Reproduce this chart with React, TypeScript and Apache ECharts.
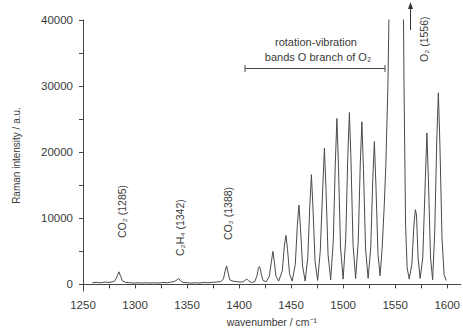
import React, { useEffect, useRef } from "react";
import * as echarts from "echarts";

// Raman spectrum: wavenumber (cm^-1) and intensity (a.u.)
const wavenumbers = [
  1259, 1263, 1267, 1271, 1275, 1279, 1281, 1283, 1284.5, 1286, 1288, 1291, 1295, 1299,
  1303, 1307, 1311, 1315, 1319, 1323, 1327, 1331, 1335, 1338, 1340.5, 1342, 1343.5, 1346,
  1350, 1354, 1358, 1362, 1366, 1370, 1374, 1378, 1382, 1385, 1386.5, 1388, 1389.5, 1391,
  1394, 1398, 1401, 1404, 1406, 1407.5, 1409, 1412, 1415, 1417, 1418.5, 1419.5, 1420.5,
  1421.5, 1423, 1426, 1429, 1431, 1432.5, 1434, 1435.5, 1438, 1441.5, 1443.5, 1445, 1446.5,
  1448.5, 1451, 1454, 1456, 1457.5, 1459, 1461, 1463.5, 1466, 1468, 1469.5, 1471, 1473,
  1475.5, 1478, 1480.5, 1482, 1483.5, 1485.5, 1488, 1490.5, 1492.5, 1494, 1495.5, 1497.5,
  1500, 1502.5, 1504.5, 1506, 1507.5, 1509.5, 1512, 1514.5, 1516.5, 1518, 1519.5, 1521.5,
  1524, 1526.5, 1528.5, 1530, 1531.5, 1533.5, 1535.5, 1537.5, 1539.5, 1541, 1543, 1544.5,
  1547, 1551, 1556, 1557.5, 1558.5, 1560, 1561.5, 1563.5, 1566, 1568, 1569.4, 1570.5, 1572,
  1574, 1576.5, 1579, 1580.5, 1582, 1584, 1586, 1588, 1590, 1591.5, 1593, 1595, 1597, 1599,
];
const intensities = [
  250, 300, 250, 350, 300, 400, 600, 1300, 1900, 1300, 500, 300, 250, 200,
  250, 200, 250, 200, 250, 200, 300, 250, 350, 450, 700, 900, 600, 300,
  250, 200, 250, 200, 300, 250, 300, 350, 400, 800, 2000, 2800, 1700, 700,
  500, 400, 350, 400, 650, 800, 550, 300, 400, 1200, 2400, 2700, 2300,
  1400, 600, 400, 1200, 3400, 5000, 3200, 1200, 500, 2000, 5800, 7400, 5400,
  1600, 500, 3000, 9000, 12000, 8500, 2800, 500, 4000, 12000, 16600, 11500, 3500,
  600, 5000, 15000, 20600, 14500, 4500, 700, 6500, 18500, 25100, 18000, 5500,
  800, 7000, 19500, 26000, 19000, 6000, 900, 6500, 18500, 24600, 17500, 5500,
  900, 5500, 16000, 21600, 15000, 4500, 1300, 5500, 12000, 18000, 30000, 45000,
  80000, 200000, 400000, 50000, 30000, 9000, 2500, 800, 3000, 9000, 11300, 10500, 4000,
  900, 4000, 16000, 22900, 15500, 4000, 700, 8000, 22000, 29000, 21000, 7000, 1500, 600,
];

const xTickLabels = [1250, 1300, 1350, 1400, 1450, 1500, 1550, 1600];
const xTicks = [1250, 1275, 1300, 1325, 1350, 1375, 1400, 1425, 1450, 1475, 1500, 1525, 1550, 1575, 1600];
const yTickLabels = [0, 10000, 20000, 30000, 40000];
const yTicks = [0, 5000, 10000, 15000, 20000, 25000, 30000, 35000, 40000];

const FONT = "'Liberation Sans', Arial, Helvetica, sans-serif";
const TXT = "#3a3a3a";

export default function App() {
  const ref = useRef<HTMLDivElement>(null);

  useEffect(() => {
    if (!ref.current) return;
    const chart = echarts.init(ref.current, undefined, { renderer: "svg" });
    const data = wavenumbers.map((w, i) => [w, intensities[i]]);

    const vText = (text: string, x: number, y: number, size = 10.5) => ({
      type: "text",
      x,
      y,
      rotation: Math.PI / 2,
      style: {
        text,
        fill: TXT,
        font: `${size}px ${FONT}`,
        align: "left",
        verticalAlign: "middle",
      },
    });

    chart.setOption({
      animation: false,
      backgroundColor: "#ffffff",
      grid: { left: 83, right: 0, top: 20, bottom: 41, containLabel: false },
      xAxis: {
        type: "value",
        min: 1250,
        max: 1613,
        name: "wavenumber / cm⁻¹",
        nameLocation: "middle",
        nameGap: 25,
        nameTextStyle: { fontFamily: FONT, fontSize: 10.5, color: TXT },
        axisLine: { show: true, lineStyle: { color: "#444", width: 1 } },
        axisTick: { show: true, customValues: xTicks, length: 4, lineStyle: { color: "#444" } },
        axisLabel: {
          customValues: xTickLabels,
          formatter: (v: number) => String(v),
          fontFamily: FONT,
          fontSize: 11.5,
          color: TXT,
          margin: 8,
        },
        splitLine: { show: false },
      },
      yAxis: {
        type: "value",
        min: -1000,
        max: 40000,
        name: "Raman intensity / a.u.",
        nameLocation: "middle",
        nameGap: 62,
        nameTextStyle: { fontFamily: FONT, fontSize: 10, color: TXT },
        axisLine: { show: true, lineStyle: { color: "#444", width: 1 } },
        axisTick: { show: true, customValues: yTicks, length: 4, lineStyle: { color: "#444" } },
        axisLabel: {
          customValues: yTickLabels,
          formatter: (v: number) => String(v),
          fontFamily: FONT,
          fontSize: 11.5,
          color: TXT,
          margin: 10,
        },
        splitLine: { show: false },
      },
      series: [
        {
          type: "line",
          data,
          showSymbol: false,
          symbol: "none",
          clip: true,
          lineStyle: { color: "#4a4a4a", width: 1 },
        },
      ],
      graphic: [
        vText("CO₂ (1285)", 122, 238),
        vText("C₂H₄ (1342)", 180, 256),
        vText("CO₂ (1388)", 228, 240),
        vText("O₂ (1556)", 424, 62),
        {
          type: "text",
          x: 316,
          y: 42,
          style: {
            text: "rotation-vibration",
            fill: TXT,
            font: `11px ${FONT}`,
            align: "center",
            verticalAlign: "middle",
          },
        },
        {
          type: "text",
          x: 318,
          y: 57,
          style: {
            text: "bands O branch of O₂",
            fill: TXT,
            font: `11px ${FONT}`,
            align: "center",
            verticalAlign: "middle",
          },
        },
        { type: "line", shape: { x1: 245, y1: 68.5, x2: 385, y2: 68.5 }, style: { stroke: "#444", lineWidth: 1 } },
        { type: "line", shape: { x1: 245, y1: 65, x2: 245, y2: 72 }, style: { stroke: "#444", lineWidth: 1 } },
        { type: "line", shape: { x1: 385, y1: 65, x2: 385, y2: 72 }, style: { stroke: "#444", lineWidth: 1 } },
        { type: "line", shape: { x1: 410.5, y1: 30, x2: 410.5, y2: 8 }, style: { stroke: "#333", lineWidth: 1 } },
        {
          type: "polygon",
          shape: { points: [[410.5, 2], [408, 9], [413, 9]] },
          style: { fill: "#333" },
        },
      ],
    });

    return () => chart.dispose();
  }, []);

  return (
    <div
      ref={ref}
      style={{ position: "absolute", left: 0, top: 0, width: 463, height: 332, background: "#fff" }}
    />
  );
}
